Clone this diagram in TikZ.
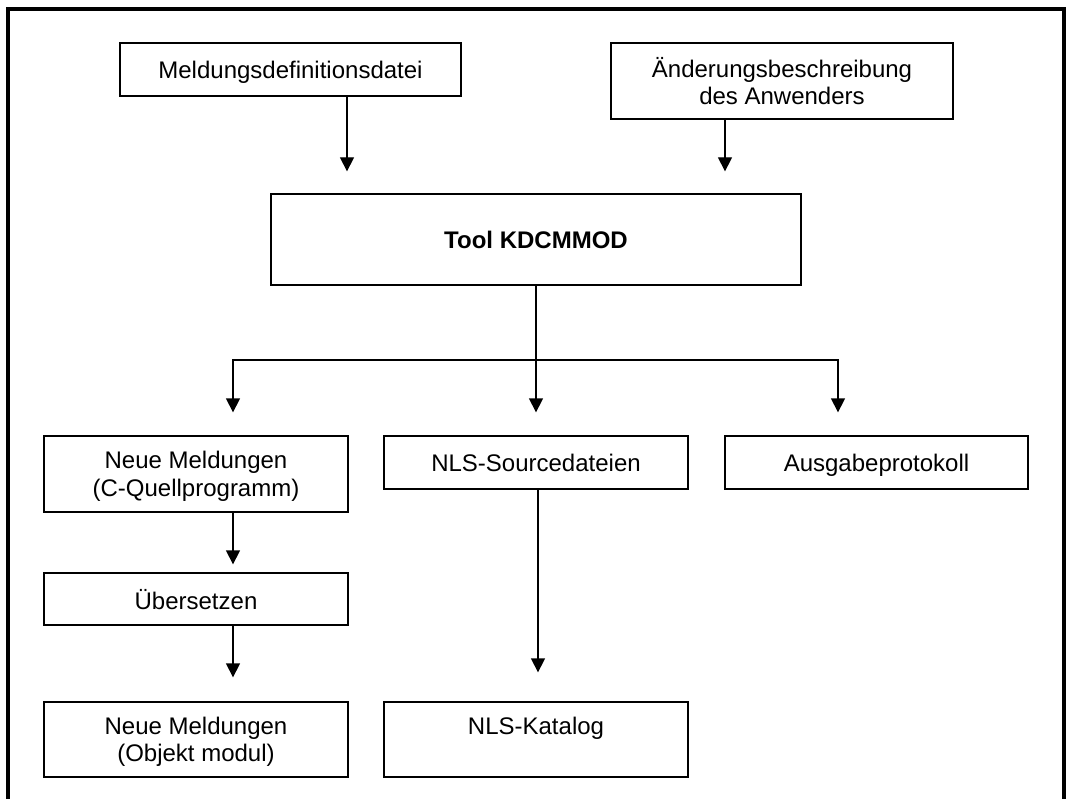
\documentclass[tikz,border=0pt]{standalone}
\usepackage{fontspec}
\setmainfont{Liberation Sans}
\usepackage{tikz}
\usetikzlibrary{arrows.meta,shapes}
\tikzstyle{box}=[rectangle, draw
,line width=1.3pt
,inner sep=0pt
,align=center
,text depth=0pt
,font=\fontsize{24}{27.5}\selectfont
]
\tikzstyle{arrow} = [draw,line width=1.3pt,-{Triangle[length=14pt,width=14pt]}]
\tikzstyle{edge} = [draw,line width=1.3pt,-]

\begin{document}
\begin{tikzpicture}[x=1pt,y=-1pt]
    \useasboundingbox (0,0) rectangle (1068,799);
    % Outer frame, open at the bottom
    \draw[line width=4pt] (8,799) -- (8,9) -- (1064,9) -- (1064,799);

    % First we draw the boxes
    \node[box, minimum width=341pt, minimum height=53pt] (meld) at (290.5,69.5) {Meldungsdefinitionsdatei};
    \node[box, minimum width=342pt, minimum height=76pt] (aend) at (782,81) {Änderungsbeschreibung\\des Anwenders};
    \node[box, minimum width=530pt, minimum height=91pt] (tool) at (536,239.5) {\bfseries Tool KDCMMOD};
    \node[box, minimum width=304pt, minimum height=76pt] (quell) at (196,474) {Neue Meldungen\\(C-Quellprogramm)};
    \node[box, minimum width=304pt, minimum height=53pt] (nlssrc) at (536,462.5) {NLS-Sourcedateien};
    \node[box, minimum width=303pt, minimum height=53pt] (ausgabe) at (876.5,462.5) {Ausgabeprotokoll};
    \node[box, minimum width=304pt, minimum height=52pt] (uebers) at (196,599) {Übersetzen};
    \node[box, minimum width=304pt, minimum height=75pt] (objekt) at (196,739.5) {Neue Meldungen\\(Objekt modul)};
    \node[box, minimum width=304pt, minimum height=75pt] (katalog) at (536,739.5) {NLS-Katalog\\\strut};
    \coordinate (split) at (536,360);

    % Connect boxes with arrows
    \foreach \source/\dest/\xpos/\gap in {meld/tool/347/22, aend/tool/725/22, quell/uebers/233/8, uebers/objekt/233/24, nlssrc/katalog/538/29}
        \path[arrow, shorten >=\gap pt] (\source.south -| \xpos,0) -- (\dest.north -| \xpos,0);

    % Output of the tool
    \path[edge] (tool.south) -- (split);
    \path[arrow, shorten >=23pt] (split) -| (quell.north -| 233,0);
    \path[arrow, shorten >=23pt] (split) -- (nlssrc.north);
    \path[arrow, shorten >=23pt] (split) -| (ausgabe.north -| 838,0);
\end{tikzpicture}
\end{document}
